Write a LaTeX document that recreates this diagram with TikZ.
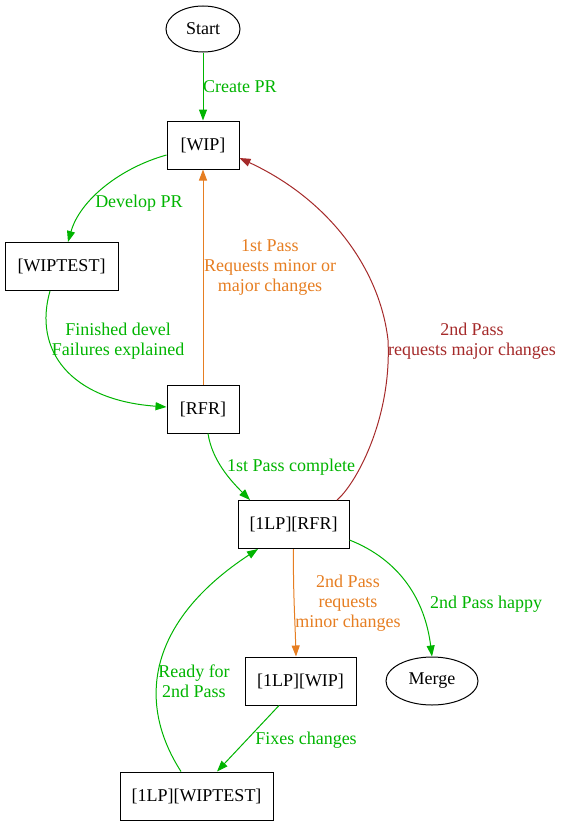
\documentclass[tikz,border=0pt]{standalone}
\usepackage{fontspec}
\setmainfont{Liberation Serif}
\usetikzlibrary{arrows.meta,shapes.geometric}
\definecolor{gok}{HTML}{00B400}
\definecolor{gmin}{HTML}{E67E22}
\definecolor{gmaj}{HTML}{A52A2A}
\begin{document}
\begin{tikzpicture}[x=1pt,y=-1pt,
  every node/.style={font=\fontsize{18}{20}\selectfont},
  box/.style={draw=black,line width=1pt,rectangle,inner sep=0pt,minimum height=48pt},
  oval/.style={draw=black,line width=1pt,ellipse,inner sep=0pt,minimum height=46pt},
  lbl/.style={align=center,inner sep=0pt},
  edge/.style={line width=1pt,-{Triangle[length=11pt,width=8pt]}},
  ok/.style={edge,draw=gok},
  minr/.style={edge,draw=gmin},
  majr/.style={edge,draw=gmaj}]
\useasboundingbox (0,0) rectangle (563,827);
% nodes
\node[oval,minimum width=74pt] (start) at (203,29) {Start};
\node[box,minimum width=72pt] (wip) at (203,145) {[WIP]};
\node[box,minimum width=113pt] (wiptest) at (61.5,266.5) {[WIPTEST]};
\node[box,minimum width=72pt] (rfr) at (203,409) {[RFR]};
\node[box,minimum width=111pt] (lprfr) at (293.5,524.5) {[1LP][RFR]};
\node[box,minimum width=111pt] (lpwip) at (300.5,681) {[1LP][WIP]};
\node[oval,minimum width=92pt,minimum height=48pt] (merge) at (432,681) {Merge};
\node[box,minimum width=153pt] (lpwiptest) at (196.5,796) {[1LP][WIPTEST]};
% edges
\draw[ok] (start.south) -- (wip.north);
\draw[ok] ([yshift=-10pt]wip.west) .. controls (120,168) and (80,200) .. ([xshift=6.5pt]wiptest.north);
\draw[ok] ([xshift=-11.5pt]wiptest.south) .. controls (33,350) and (70,400) .. ([yshift=2pt]rfr.west);
\draw[minr] (rfr.north) -- (wip.south);
\draw[ok] ([xshift=5pt]rfr.south) .. controls (212,460) and (230,480) .. ([xshift=-43.5pt]lprfr.north);
\coordinate (bend) at (388,340);
\draw[majr] ([xshift=43.5pt]lprfr.north) .. controls (355,485) and (392,420) .. (bend)
  .. controls (380,270) and (330,200) .. ([yshift=-13pt]wip.east);
\draw[minr] (lprfr.south) .. controls (293,590) and (295,620) .. ([xshift=-4.5pt]lpwip.north);
\draw[ok] ([yshift=-15.5pt]lprfr.east) .. controls (400,560) and (425,600) .. (merge.north);
\draw[ok] ([xshift=-21.5pt]lpwip.south) -- ([xshift=20.5pt]lpwiptest.north);
\draw[ok] ([xshift=-15.5pt]lpwiptest.north) .. controls (135,700) and (150,620) .. ([xshift=-35.5pt]lprfr.south);
% labels
\node[lbl,text=gok,anchor=west] (l1) at (203,87) {Create PR};
\node[lbl,text=gok] (l2) at (139,203) {Develop PR};
\node[lbl,text=gok] (l3) at (118,341) {Finished devel\\Failures explained};
\node[lbl,text=gmin] (l4) at (270,267) {1st Pass\\Requests minor or\\major changes};
\node[lbl,text=gok] (l5) at (291,467) {1st Pass complete};
\node[lbl,text=gmaj] (l6) at (472,341) {2nd Pass\\requests major changes};
\node[lbl,text=gmin] (l7) at (348,603) {2nd Pass\\requests\\minor changes};
\node[lbl,text=gok] (l8) at (486,604) {2nd Pass happy};
\node[lbl,text=gok] (l9) at (306,740) {Fixes changes};
\node[lbl,text=gok] (l10) at (194,681) {Ready for\\2nd Pass};
\end{tikzpicture}
\end{document}
